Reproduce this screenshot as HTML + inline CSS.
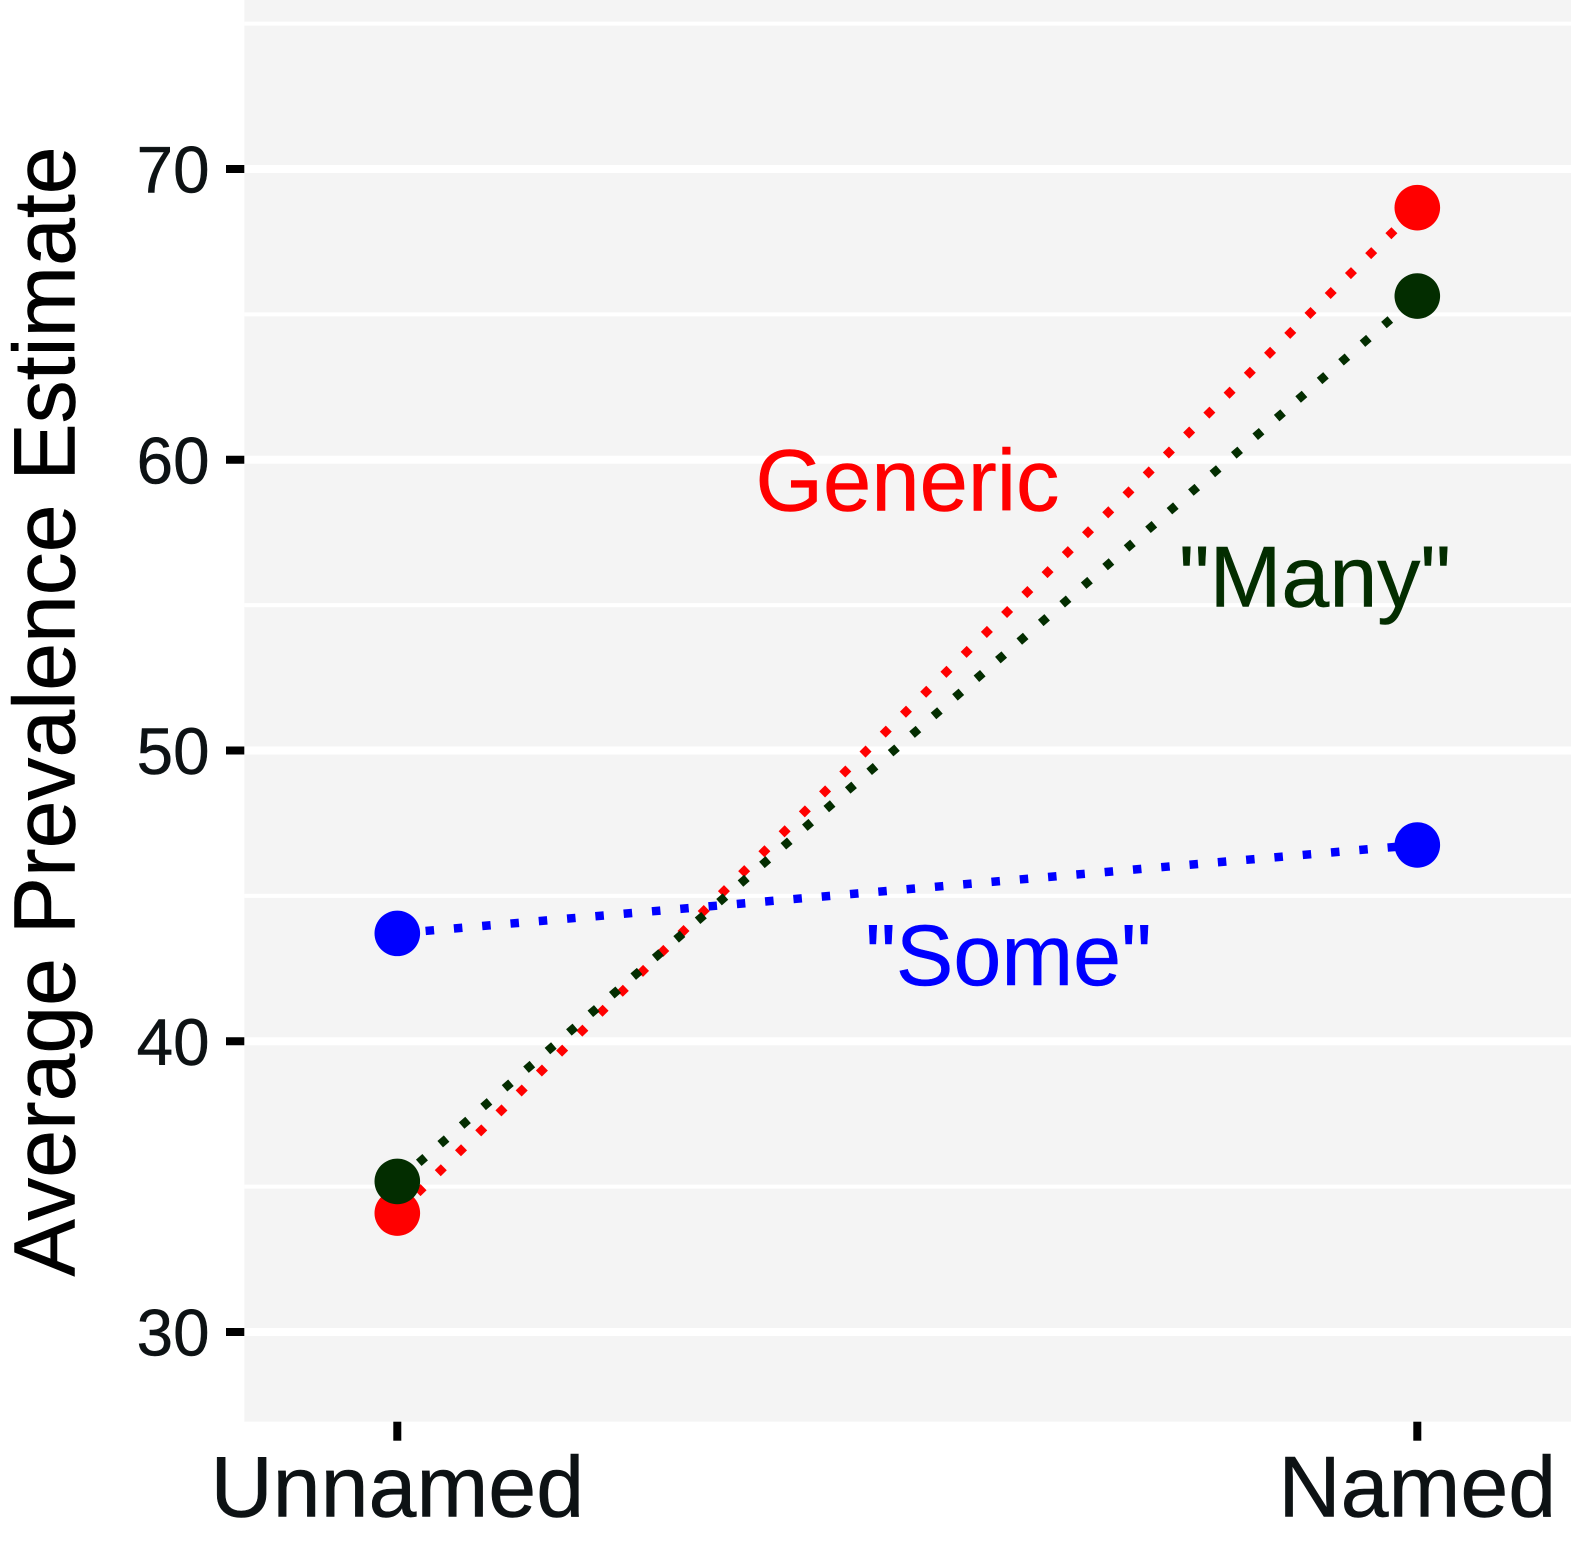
<!DOCTYPE html>
<html lang="en">
<head>
<meta charset="utf-8">
<title>Average Prevalence Estimate</title>
<style>
html,body{margin:0;padding:0;background:#fff;width:1571px;height:1545px;overflow:hidden}
svg{display:block;font-family:"Liberation Sans",Arial,sans-serif}
</style>
</head>
<body>
<svg id="chart" xmlns="http://www.w3.org/2000/svg" width="1571" height="1545" viewBox="0 0 1571 1545"></svg>
<script>
const categories = ['Unnamed', 'Named'];
const yTicks = [30, 40, 50, 60, 70];
const yMinorTicks = [35, 45, 55, 65, 75];
const seriesNames = ['Generic', '"Many"', '"Some"'];
const genericValues = [34.09, 68.67];
const manyValues = [35.18, 65.63];
const someValues = [43.71, 46.75];

const NS = 'http://www.w3.org/2000/svg';
const svg = document.getElementById('chart');
const panel = {left: 244.3, right: 1571, top: 0, bottom: 1421.7};
const yScale = v => 1332 - (v - 30) * 29.075;
const xScale = i => 397.3 + i * 1020;

function make(tag, attrs, parent, text) {
  const el = document.createElementNS(NS, tag);
  for (const k in attrs) el.setAttribute(k, attrs[k]);
  if (text !== undefined) el.textContent = text;
  (parent || svg).appendChild(el);
  return el;
}

const bg = make('rect', {x: panel.left, y: panel.top, width: panel.right - panel.left, height: panel.bottom - panel.top, fill: '#f4f4f4'});



yMinorTicks.forEach(v => {
  const g = make('line', {x1: panel.left, x2: panel.right, y1: yScale(v), y2: yScale(v), stroke: '#fff', 'stroke-width': 4});
  
  
});

yTicks.forEach(v => {
  const g = make('line', {x1: panel.left, x2: panel.right, y1: yScale(v), y2: yScale(v), stroke: '#fff', 'stroke-width': 8});
  
  
  const t = make('line', {x1: 226, x2: panel.left, y1: yScale(v), y2: yScale(v), stroke: '#000', 'stroke-width': 8});
  
  
  const l = make('text', {x: 209.5, y: yScale(v) + 23.5, 'text-anchor': 'end', 'font-size': 65.5, fill: '#0d1214', stroke: '#0d1214', 'stroke-width': 0.5}, svg, String(v));
  
  
});

categories.forEach((c, i) => {
  const t = make('line', {x1: xScale(i), x2: xScale(i), y1: panel.bottom, y2: 1440.7, stroke: '#000', 'stroke-width': 8});
  
  
  const l = make('text', {x: xScale(i), y: 1516.7, 'text-anchor': 'middle', 'font-size': 86.2, fill: '#0d1214', stroke: '#0d1214', 'stroke-width': 0.5}, svg, c);
  
  
});

const yTitle = make('text', {x: 0, y: 0, transform: 'translate(74.5 711.5) rotate(-90)', 'text-anchor': 'middle', 'font-size': 87, textLength: 1130, lengthAdjust: 'spacingAndGlyphs', fill: '#000', stroke: '#000', 'stroke-width': 0.5}, svg, 'Average Prevalence Estimate');



const allValues = [genericValues, manyValues, someValues];
const colors = ['#ff0000', '#032d00', '#0000ff'];
const slugs = ['generic', 'many', 'some'];
const labelX = [907.5, 1315, 1008.5];
const labelY = [510.7, 606.7, 985];
const labelSizes = [86.8, 86.2, 86.2];

allValues.forEach((vals, s) => {
  const line = make('line', {
    x1: xScale(0), y1: yScale(vals[0]), x2: xScale(1), y2: yScale(vals[1]),
    stroke: colors[s], 'stroke-width': 8.5, 'stroke-dasharray': '8.5 19.9'
  });
  
  
});

allValues.forEach((vals, s) => {
  vals.forEach((v, i) => {
    const p = make('circle', {cx: xScale(i), cy: yScale(v), r: 22.8, fill: colors[s]});
    
    
  });
});

seriesNames.forEach((n, s) => {
  const l = make('text', {x: labelX[s], y: labelY[s], 'text-anchor': 'middle', 'font-size': labelSizes[s], fill: colors[s], stroke: colors[s], 'stroke-width': 0.5}, svg, n);
  
  
});
</script>
</body>
</html>
